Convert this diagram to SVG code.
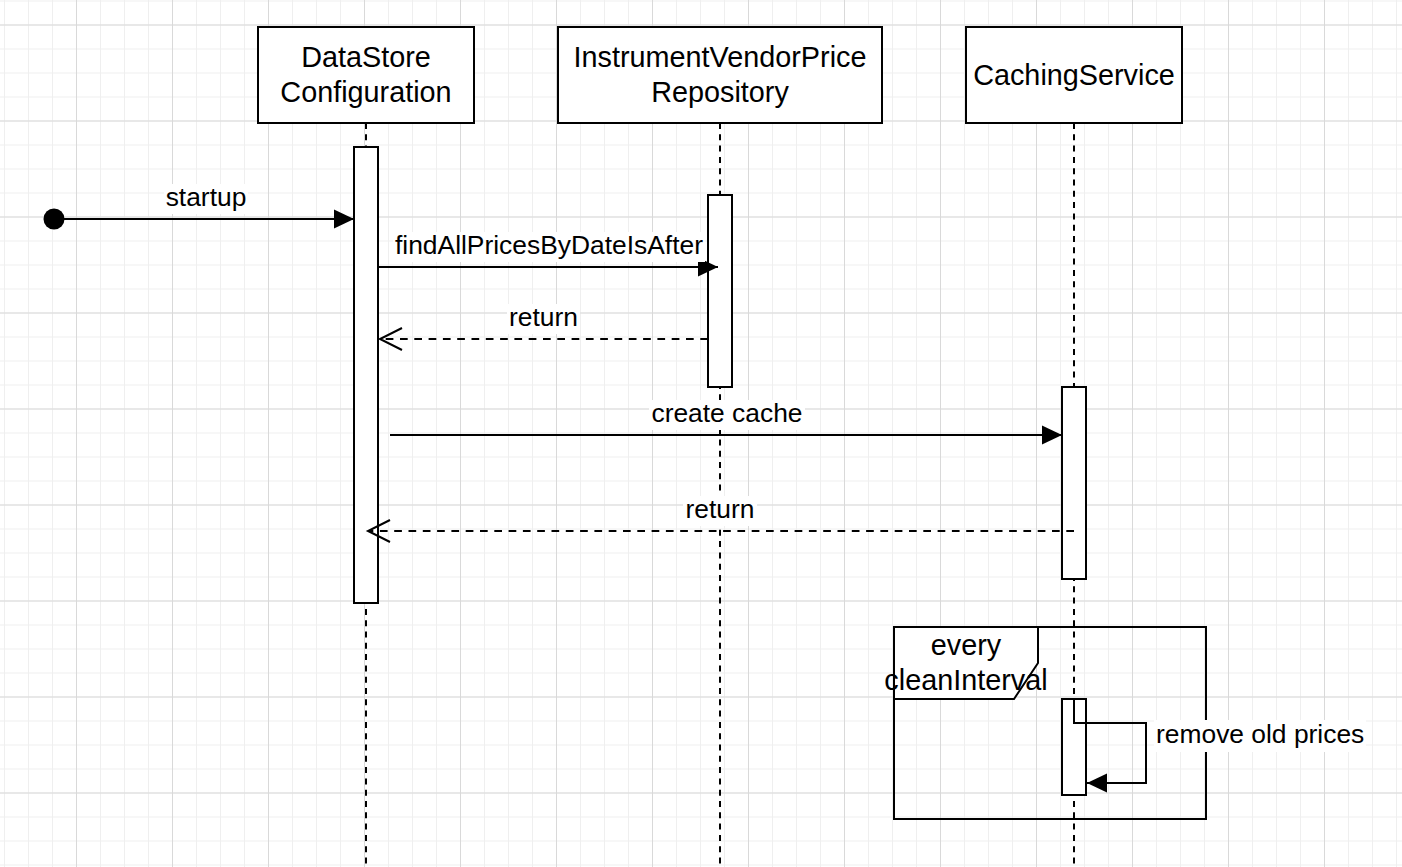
<svg xmlns="http://www.w3.org/2000/svg" width="1402" height="867" viewBox="0 0 1402 867">
  <style>
    .box { fill:#ffffff; stroke:#000000; stroke-width:2; }
    .life { fill:none; stroke:#000000; stroke-width:2; stroke-dasharray:6 5.3; }
    .act { fill:#ffffff; stroke:#000000; stroke-width:2; }
    .msg { fill:none; stroke:#000000; stroke-width:2; }
    .ret { stroke-dasharray:7.7 6.6; }
    .frame { fill:none; stroke:#000000; stroke-width:2; }
    .tab { fill:#ffffff; stroke:#000000; stroke-width:2; }
    .t { font-family:"Liberation Sans", Arial, sans-serif; font-size:28.8px; fill:#000000; text-anchor:middle; }
    .lbl { font-size:26.4px; }
    .bg { fill:#ffffff; }
  </style>
  <defs>
    <pattern id="minor" width="24" height="24" x="4" y="0.5" patternUnits="userSpaceOnUse">
      <path d="M0.5 0 V24 M0 0.5 H24" stroke="#efefef" stroke-width="1" fill="none"/>
    </pattern>
    <pattern id="major" width="96" height="96" x="-20" y="24.5" patternUnits="userSpaceOnUse">
      <path d="M0.5 0 V96 M0 0.5 H96" stroke="#d9d9d9" stroke-width="1" fill="none"/>
    </pattern>
    <marker id="block" markerUnits="userSpaceOnUse" markerWidth="22" markerHeight="22" refX="20" refY="10" orient="auto" overflow="visible">
      <path d="M0,0.5 L20,10 L0,19.5 Z" fill="#000000" stroke="none"/>
    </marker>
    <marker id="open" markerUnits="userSpaceOnUse" markerWidth="26" markerHeight="26" refX="2" refY="12" orient="auto" overflow="visible">
      <path d="M-20,1 L2,12 L-20,23" fill="none" stroke="#000000" stroke-width="2" stroke-dasharray="none"/>
    </marker>
  </defs>

  <rect x="0" y="0" width="1402" height="867" fill="#ffffff"/>
  <rect x="0" y="0" width="1402" height="867" fill="url(#minor)"/>
  <rect x="0" y="0" width="1402" height="867" fill="url(#major)"/>

  <g id="lifelines">
    <line class="life" x1="366" y1="123" x2="366" y2="867"/>
    <line class="life" x1="720" y1="123" x2="720" y2="867"/>
    <line class="life" x1="1074" y1="123" x2="1074" y2="867"/>
  </g>

  <g id="node-datastore">
    <rect class="box" x="258" y="27" width="216" height="96"/>
    <text class="t" x="366" y="67">DataStore</text>
    <text class="t" x="366" y="102">Configuration</text>
  </g>
  <g id="node-repository">
    <rect class="box" x="558" y="27" width="324" height="96"/>
    <text class="t" x="720" y="67">InstrumentVendorPrice</text>
    <text class="t" x="720" y="102">Repository</text>
  </g>
  <g id="node-caching">
    <rect class="box" x="966" y="27" width="216" height="96"/>
    <text class="t" x="1074" y="85">CachingService</text>
  </g>

  <g id="frame-loop">
    <rect class="frame" x="894" y="627" width="312" height="192"/>
    <path class="tab" d="M894,627 H1038 V663 L1014,699 H894 Z"/>
    <text class="t" x="966" y="655">every</text>
    <text class="t" x="966" y="690">cleanInterval</text>
  </g>

  <g id="activations">
    <rect id="act-datastore" class="act" x="354" y="147" width="24" height="456"/>
    <rect id="act-repository" class="act" x="708" y="195" width="24" height="192"/>
    <rect id="act-caching" class="act" x="1062" y="387" width="24" height="192"/>
    <rect id="act-caching-clean" class="act" x="1062" y="699" width="24" height="96"/>
  </g>

  <g id="start-node">
    <circle cx="54" cy="219" r="10.5" fill="#000000"/>
  </g>

  <g id="connectors">
    <line class="msg" x1="54" y1="219" x2="354" y2="219" marker-end="url(#block)"/>
    <line class="msg" x1="378" y1="267" x2="718" y2="267" marker-end="url(#block)"/>
    <line class="msg ret" x1="708" y1="339" x2="380" y2="339" marker-end="url(#open)"/>
    <line class="msg" x1="390" y1="435" x2="1062" y2="435" marker-end="url(#block)"/>
    <line class="msg ret" x1="1074" y1="531" x2="368" y2="531" marker-end="url(#open)"/>
    <path class="msg" d="M1074,699 V723 H1146 V783 H1087" marker-end="url(#block)"/>
  </g>

  <g id="labels">
    <rect class="bg" x="164" y="184" width="84" height="30"/>
    <text class="t lbl" x="206" y="206">startup</text>
    <rect class="bg" x="393" y="232" width="312" height="30"/>
    <text class="t lbl" x="549" y="254">findAllPricesByDateIsAfter</text>
    <rect class="bg" x="507" y="304" width="73" height="30"/>
    <text class="t lbl" x="543.5" y="326">return</text>
    <rect class="bg" x="649" y="400" width="156" height="30"/>
    <text class="t lbl" x="727" y="422">create cache</text>
    <rect class="bg" x="683" y="496" width="74" height="30"/>
    <text class="t lbl" x="720" y="518">return</text>
    <rect class="bg" x="1154" y="720" width="212" height="32"/>
    <text class="t lbl" x="1156" y="743" style="text-anchor:start">remove old prices</text>
  </g>
</svg>
